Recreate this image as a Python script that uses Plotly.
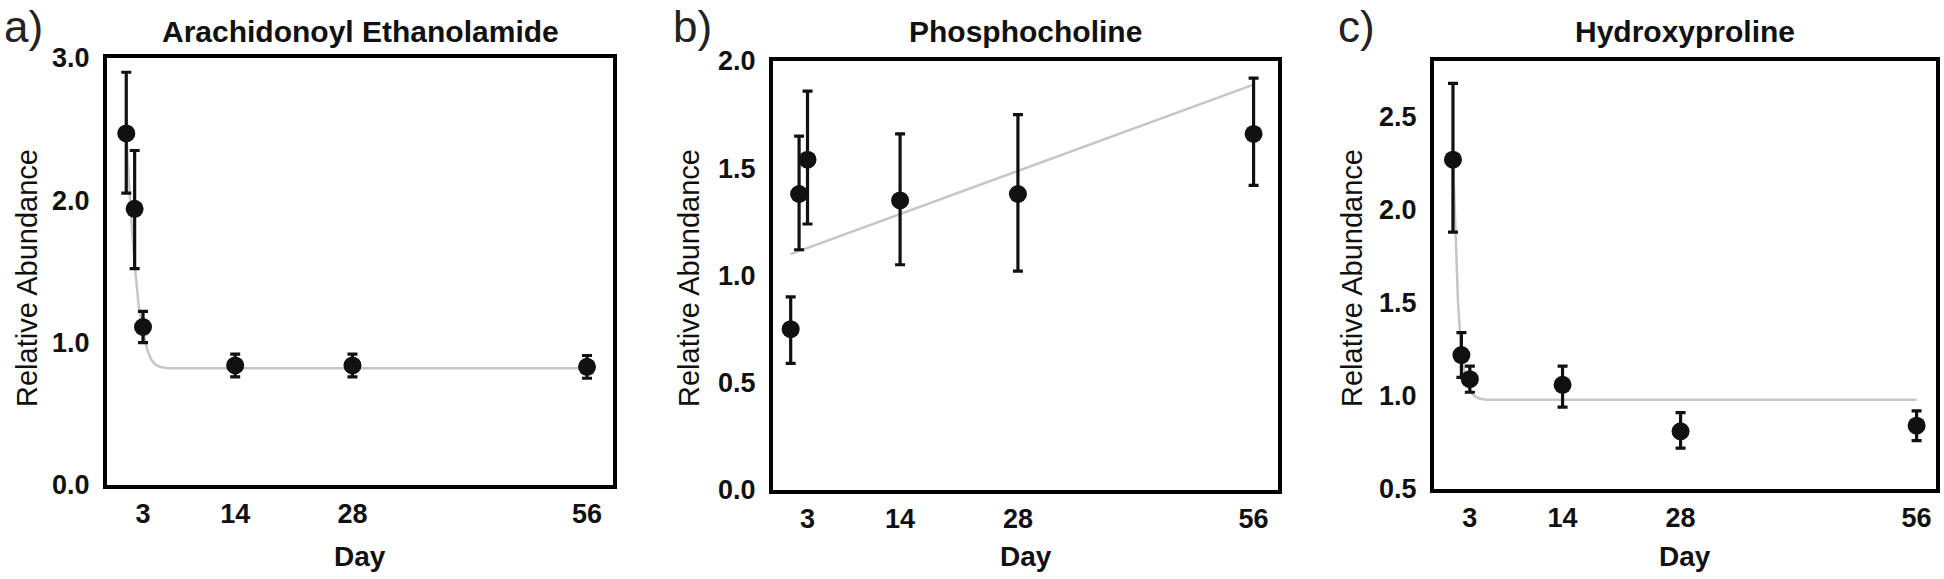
import plotly.graph_objects as go

# ---------------- data ----------------
days = [1, 2, 3, 14, 28, 56]
x_tick_vals = [3, 14, 28, 56]

titles = ["Arachidonoyl Ethanolamide", "Phosphocholine", "Hydroxyproline"]
panel_labels = ["a)", "b)", "c)"]

# a) Arachidonoyl Ethanolamide
a_mean = [2.47, 1.94, 1.11, 0.84, 0.84, 0.83]
a_err_plus = [0.43, 0.41, 0.11, 0.08, 0.08, 0.08]
a_err_minus = [0.42, 0.42, 0.11, 0.08, 0.08, 0.08]
a_fit_x = [1, 1.5, 2, 2.5, 3, 3.5, 4, 4.5, 5, 6, 56]
a_fit_y = [2.47, 1.95, 1.55, 1.25, 1.08, 0.95, 0.88, 0.845, 0.83, 0.82, 0.82]
a_yticks = [0.0, 1.0, 2.0, 3.0]

# b) Phosphocholine
b_mean = [0.75, 1.38, 1.54, 1.35, 1.38, 1.66]
b_err_plus = [0.15, 0.27, 0.32, 0.31, 0.37, 0.26]
b_err_minus = [0.16, 0.26, 0.30, 0.30, 0.36, 0.24]
b_fit_x = [1, 56]
b_fit_y = [1.10, 1.89]
b_yticks = [0.0, 0.5, 1.0, 1.5, 2.0]

# c) Hydroxyproline
c_mean = [2.27, 1.22, 1.09, 1.06, 0.81, 0.84]
c_err_plus = [0.41, 0.12, 0.07, 0.10, 0.10, 0.08]
c_err_minus = [0.39, 0.12, 0.07, 0.12, 0.09, 0.08]
c_fit_x = [1, 1.3, 1.6, 2, 2.5, 3, 3.5, 4.2, 5, 56]
c_fit_y = [2.28, 1.9, 1.5, 1.22, 1.10, 1.03, 1.0, 0.985, 0.98, 0.98]
c_yticks = [0.5, 1.0, 1.5, 2.0, 2.5]

# ---------------- layout geometry ----------------
W, H = 1944, 579
FONT = "Liberation Sans, Arial, Helvetica, sans-serif"

def px(x):
    return x / W

def py(y):
    return 1 - y / H

panels = [
    dict(mean=a_mean, ep=a_err_plus, em=a_err_minus, fx=a_fit_x, fy=a_fit_y,
         yticks=a_yticks, yrange=[0, 3.0], xrange=[-1.3, 59.1],
         xdom=[px(107), px(613)], ydom=[py(485), py(58)], ytitle_x=27, label_x=23),
    dict(mean=b_mean, ep=b_err_plus, em=b_err_minus, fx=b_fit_x, fy=b_fit_y,
         yticks=b_yticks, yrange=[0, 2.0], xrange=[-1.1, 58.9],
         xdom=[px(773), px(1278)], ydom=[py(490), py(61)], ytitle_x=689, label_x=692),
    dict(mean=c_mean, ep=c_err_plus, em=c_err_minus, fx=c_fit_x, fy=c_fit_y,
         yticks=c_yticks, yrange=[0.5, 2.8], xrange=[-1.25, 58.3],
         xdom=[px(1434), px(1936)], ydom=[py(489), py(61)], ytitle_x=1352, label_x=1356),
]

fig = go.Figure()
annotations = []

for i, p in enumerate(panels):
    n = "" if i == 0 else str(i + 1)
    xa, ya = "x" + n, "y" + n
    # fitted curve (under the points)
    fig.add_trace(go.Scatter(
        x=p["fx"], y=p["fy"], mode="lines", xaxis=xa, yaxis=ya,
        line=dict(color="#c6c6c6", width=2.5),
        showlegend=False, hoverinfo="skip"))
    # data points with error bars
    fig.add_trace(go.Scatter(
        x=days, y=p["mean"], mode="markers", xaxis=xa, yaxis=ya,
        marker=dict(color="#111111", size=18, symbol="circle"),
        error_y=dict(type="data", symmetric=False, array=p["ep"], arrayminus=p["em"],
                     color="#111111", thickness=3.2, width=5),
        showlegend=False))

    axis_common = dict(showline=True, mirror=True, linewidth=4, linecolor="black",
                       showgrid=False, zeroline=False, ticks="", automargin=False)
    fig.layout["xaxis" + n] = dict(
        axis_common, domain=p["xdom"], range=p["xrange"], anchor=ya,
        tickmode="array", tickvals=x_tick_vals,
        ticktext=[str(v) for v in x_tick_vals],
        tickfont=dict(family=FONT, size=27, color="#111111", weight="bold"),
        ticklabelstandoff=2)
    fig.layout["yaxis" + n] = dict(
        axis_common, domain=p["ydom"], range=p["yrange"], anchor=xa,
        tickmode="array", tickvals=p["yticks"],
        ticktext=["%.1f" % v for v in p["yticks"]],
        tickfont=dict(family=FONT, size=27, color="#111111", weight="bold"),
        ticklabelstandoff=8)

    xc = (p["xdom"][0] + p["xdom"][1]) / 2
    # title
    annotations.append(dict(text=titles[i], x=xc, y=py(31), xref="paper", yref="paper",
                            xanchor="center", yanchor="middle", showarrow=False,
                            font=dict(family=FONT, size=30, color="#111111", weight="bold")))
    # panel label
    annotations.append(dict(text=panel_labels[i], x=px(p["label_x"]), y=py(27),
                            xref="paper", yref="paper", xanchor="center", yanchor="middle",
                            showarrow=False,
                            font=dict(family=FONT, size=44, color="#222222")))
    # y-axis title
    annotations.append(dict(text="Relative Abundance", x=px(p["ytitle_x"]), y=py(278),
                            xref="paper", yref="paper", xanchor="center", yanchor="middle",
                            textangle=-90, showarrow=False,
                            font=dict(family=FONT, size=29, color="#111111")))
    # x-axis title
    annotations.append(dict(text="Day", x=xc, y=py(556), xref="paper", yref="paper",
                            xanchor="center", yanchor="middle", showarrow=False,
                            font=dict(family=FONT, size=28, color="#111111", weight="bold")))

fig.update_layout(
    template="none",
    width=W, height=H, autosize=False,
    margin=dict(l=0, r=0, t=0, b=0, pad=0),
    paper_bgcolor="white", plot_bgcolor="white",
    annotations=annotations,
)

fig.write_html(
    "out.html",
    config={"displayModeBar": False},
    post_script="document.body.style.margin='0';document.body.style.overflow='hidden';",
)
